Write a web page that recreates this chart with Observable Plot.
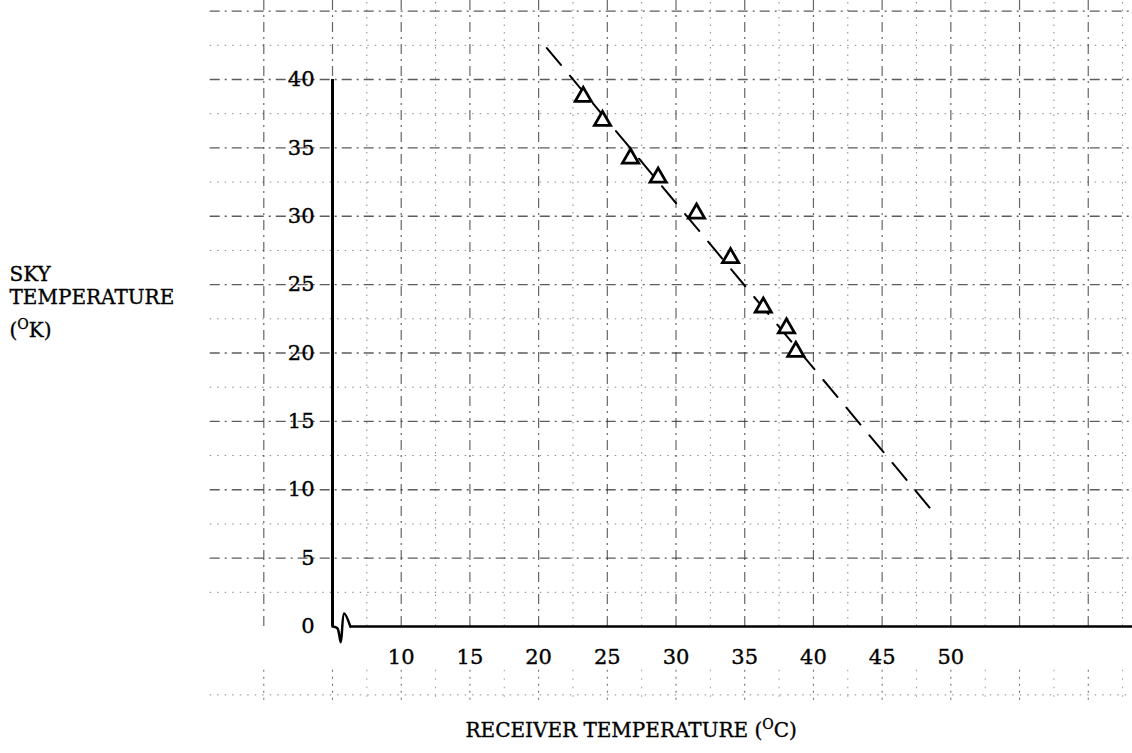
<!DOCTYPE html>
<html>
<head>
<meta charset="utf-8">
<script src="https://cdn.jsdelivr.net/npm/d3@7"></script>
<script src="https://cdn.jsdelivr.net/npm/@observablehq/plot@0.6"></script>
<style>
  html, body { margin: 0; padding: 0; background: #fff; }
  svg { display: block; }
  svg text { stroke: #000; stroke-width: 0.35px; paint-order: fill; }
</style>
</head>
<body>
<script>
// ---- data ----
const xTicks = [10, 15, 20, 25, 30, 35, 40, 45, 50];
const yTicks = [0, 5, 10, 15, 20, 25, 30, 35, 40];
const receiverTemp = [23.25, 24.65, 26.69, 28.70, 31.49, 33.97, 36.35, 38.04, 38.72];
const skyTemp      = [38.74, 36.99, 34.23, 32.84, 30.21, 26.95, 23.34, 21.81, 20.10];
const fitReceiver  = [20.6, 48.7];
const fitSky       = [42.3, 8.4];
// graph-paper rulings (in data units)
const gridXMajor = [0, 5, 10, 15, 20, 25, 30, 35, 40, 45, 50, 55, 60];
const gridXMinor = [7.5, 12.5, 17.5, 22.5, 27.5, 32.5, 37.5, 42.5, 47.5, 52.5, 57.5, 62.5];
const gridYMajor = [5, 10, 15, 20, 25, 30, 35, 40, 45];
const gridYMinor = [-5, 2.5, 7.5, 12.5, 17.5, 22.5, 27.5, 32.5, 37.5, 42.5];
const axisBreak = [[5, 0], [5.35, -0.12], [5.6, -1.15], [5.85, 0.95], [6.3, 0]];

const points = receiverTemp.map((x, i) => ({x, y: skyTemp[i]}));
const fit = fitReceiver.map((x, i) => ({x, y: fitSky[i]}));
const breakPts = axisBreak.map(([x, y]) => ({x, y}));

const X0 = -3.9, X1 = 63.22, Y0 = -5.4, Y1 = 45.8;
const font = "'DejaVu Serif', 'Liberation Serif', serif";

const chart = Plot.plot({
  width: 1132,
  height: 753,
  marginLeft: 332,
  marginRight: 0,
  marginTop: 79,
  marginBottom: 127,
  style: {fontFamily: font, fontSize: "20px", color: "#000", background: "#fff"},
  x: {domain: [5, 63.22], axis: null},
  y: {domain: [0, 40], axis: null},
  marks: [
    // graph paper (faint, broken rulings)
    Plot.ruleY(gridYMinor, {y: d => d, x1: () => X0, x2: () => X1, stroke: "#888", strokeWidth: 1, strokeDasharray: "1.5,6"}),
    Plot.ruleX(gridXMinor, {x: d => d, y1: () => 0, y2: () => Y1, stroke: "#888", strokeWidth: 1, strokeDasharray: "1.5,6"}),
    Plot.ruleX(gridXMinor, {x: d => d, y1: () => -3.2, y2: () => Y0, stroke: "#999", strokeWidth: 1, strokeDasharray: "1.5,7"}),
    Plot.ruleY(gridYMajor, {y: d => d, x1: () => X0, x2: () => X1, stroke: "#333", strokeOpacity: 0.8, strokeWidth: 1.3, strokeDasharray: "10,5,2,5"}),
    Plot.ruleX(gridXMajor, {x: d => d, y1: () => 0, y2: () => Y1, stroke: "#333", strokeOpacity: 0.75, strokeWidth: 1.2, strokeDasharray: "10,5,2,5"}),
    Plot.ruleX(gridXMajor, {x: d => d, y1: () => -3.2, y2: () => Y0, stroke: "#666", strokeWidth: 1, strokeDasharray: "2,5"}),
    // axes
    Plot.ruleX([5], {x: d => d, y1: () => 0, y2: () => 40, stroke: "#000", strokeWidth: 3}),
    Plot.ruleY([0], {y: d => d, x1: () => 6.3, x2: () => X1, stroke: "#000", strokeWidth: 2.5}),
    Plot.line(breakPts, {x: "x", y: "y", curve: "catmull-rom", stroke: "#000", strokeWidth: 2.5}),
    Plot.axisX({ticks: xTicks, tickSize: 0, tickPadding: 23, fontSize: 21, fontFamily: font, label: null}),
    Plot.axisY({ticks: yTicks, tickSize: 0, tickPadding: 18, fontSize: 21, fontFamily: font, label: null}),
    // fitted line
    Plot.line(fit, {x: "x", y: "y", stroke: "#000", strokeWidth: 2, strokeDasharray: "22,14"}),
    // observations
    Plot.dot(points, {x: "x", y: "y", symbol: "triangle", r: 6, fill: "#fff", stroke: "#000", strokeWidth: 2.8}),
    // titles
    Plot.text(["SKY"], {frameAnchor: "left", text: d => d, textAnchor: "start", dx: -323, dy: -78, fontSize: 20, fontFamily: font}),
    Plot.text(["TEMPERATURE"], {frameAnchor: "left", text: d => d, textAnchor: "start", dx: -323, dy: -55, fontSize: 20, fontFamily: font}),
    Plot.text(["(°K)"], {frameAnchor: "left", text: d => d, textAnchor: "start", dx: -323, dy: -22, fontSize: 20, fontFamily: font}),
    Plot.text(["RECEIVER TEMPERATURE (°C)"], {frameAnchor: "bottom", text: d => d, textAnchor: "start", lineAnchor: "middle", dx: -267, dy: 104, fontSize: 20, fontFamily: font})
  ]
});
document.body.append(chart);

// raised "O" degree signs as in the typed original
d3.select(chart).selectAll("text").each(function() {
  const t = this.textContent;
  if (t === "(°K)" || t === "RECEIVER TEMPERATURE (°C)") {
    const [pre, post] = t.split("°");
    const sel = d3.select(this);
    sel.text(null);
    sel.append("tspan").text(pre);
    sel.append("tspan").attr("dy", -8).attr("font-size", 14).text("O");
    sel.append("tspan").attr("dy", 8).text(post);
  }
});
</script>
</body>
</html>
